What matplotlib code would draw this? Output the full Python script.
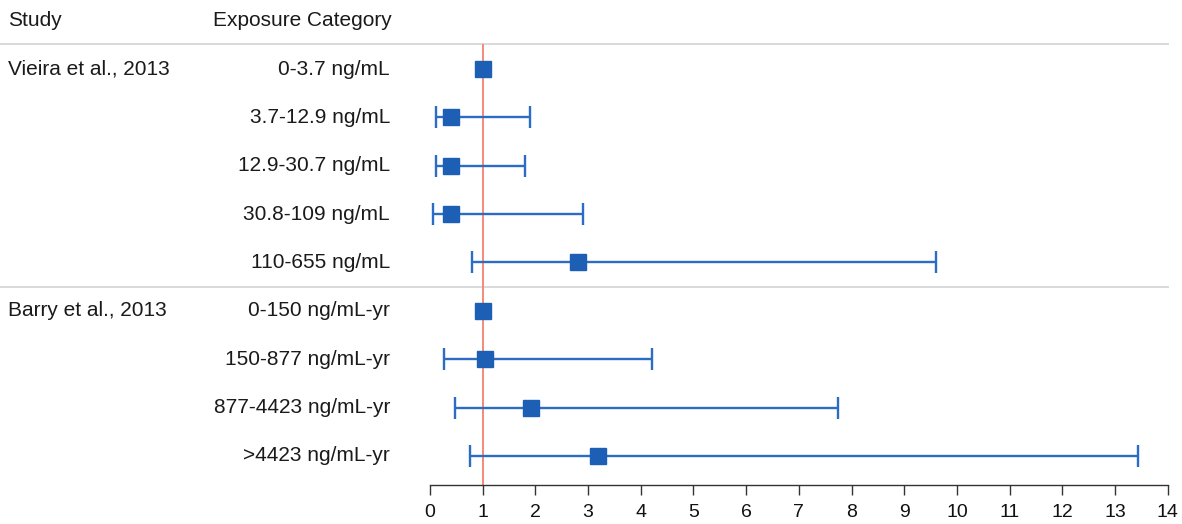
import numpy as np
import matplotlib
matplotlib.use("Agg")
import matplotlib.pyplot as plt
from matplotlib.transforms import blended_transform_factory
from matplotlib.lines import Line2D

plt.rcParams["font.family"] = ["Liberation Sans", "DejaVu Sans"]

# Study labels and the row each one starts on
studies = ["Vieira et al., 2013", "Barry et al., 2013"]
study_rows = [0, 5]

# Exposure categories, one per row
categories = [
    "0-3.7 ng/mL",
    "3.7-12.9 ng/mL",
    "12.9-30.7 ng/mL",
    "30.8-109 ng/mL",
    "110-655 ng/mL",
    "0-150 ng/mL-yr",
    "150-877 ng/mL-yr",
    "877-4423 ng/mL-yr",
    ">4423 ng/mL-yr",
]

# Point estimates and confidence limits (reference categories have no interval)
estimate = [1.0, 0.40, 0.40, 0.40, 2.80, 1.0, 1.04, 1.92, 3.18]
lower = [np.nan, 0.11, 0.11, 0.06, 0.80, np.nan, 0.27, 0.47, 0.75]
upper = [np.nan, 1.90, 1.80, 2.90, 9.60, np.nan, 4.22, 7.74, 13.43]

x_ticks = list(range(0, 15))
null_value = 1.0

W, H = 1182, 524
fig = plt.figure(figsize=(W / 100, H / 100), dpi=100)
left, right = 430 / W, 1167.7 / W
top_px, bottom_px = 44, 485
ax = fig.add_axes([left, 1 - bottom_px / H, right - left, (bottom_px - top_px) / H])

rows = np.arange(len(categories))
est = np.array(estimate)
lo = np.array(lower)
hi = np.array(upper)

blue = "#1c5fb5"
line_blue = "#2b6cc4"

# Confidence intervals with end caps
has_ci = ~np.isnan(lo)
ax.errorbar(est[has_ci], rows[has_ci],
            xerr=[est[has_ci] - lo[has_ci], hi[has_ci] - est[has_ci]],
            fmt="none", ecolor=line_blue, elinewidth=1.7, capsize=8,
            capthick=1.7, zorder=3)

# Point estimates
ax.plot(est, rows, linestyle="none", marker="s", markersize=11.5,
        color=blue, markeredgecolor=blue, zorder=4)

# Line of no effect
ax.axvline(null_value, color="#f4806f", linewidth=1.3, zorder=2)

ax.set_xlim(0, 14)
ax.set_ylim(8.6, -0.517)
ax.set_xticks(x_ticks)
ax.set_xticklabels([str(t) for t in x_ticks], fontsize=14)
ax.set_yticks([])
for side in ["top", "right", "left"]:
    ax.spines[side].set_visible(False)
ax.spines["bottom"].set_color("#333333")
ax.spines["bottom"].set_linewidth(1.0)
ax.tick_params(axis="x", direction="out", length=7, width=1.0,
               color="#333333", labelcolor="#111111", pad=7)
ax.patch.set_alpha(0)

# Table columns: x in figure pixels, y in row units
trans = blended_transform_factory(fig.transFigure, ax.transData)
text_kw = dict(transform=trans, fontsize=15, color="#1a1a1a", va="center")

ax.text(8 / W, -1.0, "Study", ha="left", clip_on=False, **text_kw)
ax.text(213 / W, -1.0, "Exposure Category", ha="left", clip_on=False, **text_kw)

for name, r in zip(studies, study_rows):
    ax.text(8 / W, r, name, ha="left", clip_on=False, **text_kw)

for r, cat in zip(rows, categories):
    ax.text(390 / W, r, cat, ha="right", clip_on=False, **text_kw)

# Horizontal separators under the header and between studies
for y in [-0.517, 4.5]:
    ax.add_line(Line2D([0, right], [y, y], transform=trans, color="#d9d9d9",
                       linewidth=1.4, clip_on=False, zorder=1))

fig.savefig("out.png", dpi=100)
